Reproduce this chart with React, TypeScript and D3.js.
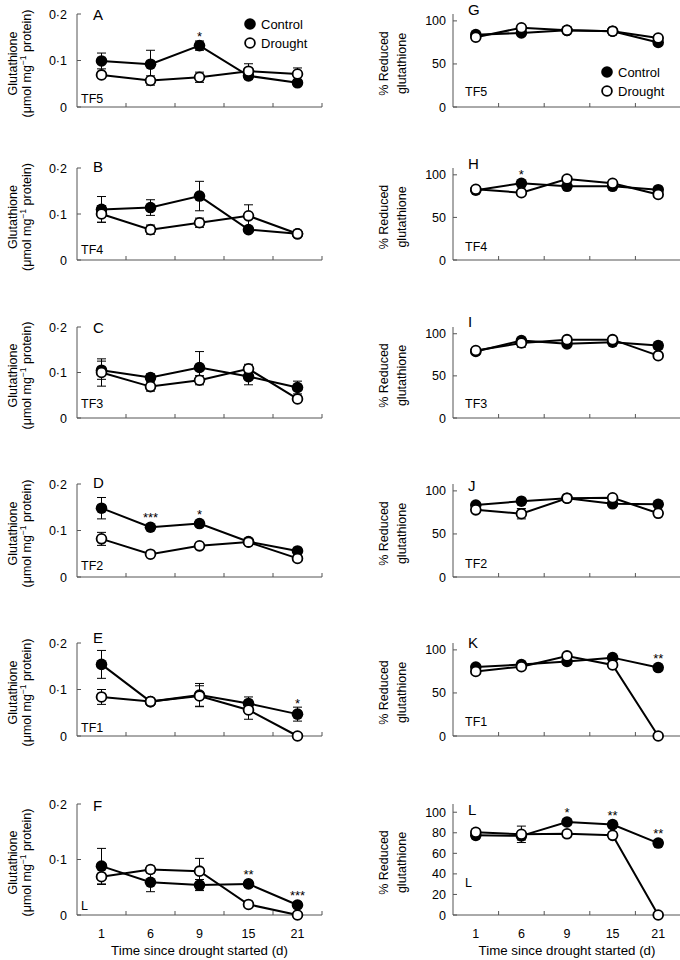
import React from "react";
import * as d3 from "d3";

// ---------- data ----------
const days = ["1", "6", "9", "15", "21"];
const glutTicks = [0, 0.1, 0.2];
const pctTicks = [0, 50, 100];
const pctTicksBottom = [0, 20, 40, 60, 80, 100];
const leftLetters = ["A", "B", "C", "D", "E", "F"];
const rightLetters = ["G", "H", "I", "J", "K", "L"];
const sectionLabels = ["TF5", "TF4", "TF3", "TF2", "TF1", "L"];
const xTitle = "Time since drought started (d)";

// Glutathione (µmol mg-1 protein)
const glutControl = [
  [0.099, 0.092, 0.132, 0.067, 0.052],
  [0.110, 0.114, 0.139, 0.066, 0.057],
  [0.105, 0.089, 0.111, 0.091, 0.067],
  [0.148, 0.107, 0.115, 0.076, 0.056],
  [0.154, 0.074, 0.088, 0.070, 0.047],
  [0.088, 0.059, 0.054, 0.056, 0.018],
];
const glutControlErr = [
  [0.017, 0.030, 0.010, 0.008, 0.006],
  [0.028, 0.017, 0.032, 0.005, 0.004],
  [0.020, 0.008, 0.035, 0.018, 0.014],
  [0.023, 0.005, 0.006, 0.005, 0.005],
  [0.030, 0.004, 0.025, 0.014, 0.015],
  [0.032, 0.017, 0.010, 0.006, 0.005],
];
const glutDrought = [
  [0.069, 0.057, 0.064, 0.077, 0.071],
  [0.100, 0.066, 0.081, 0.096, 0.057],
  [0.100, 0.069, 0.083, 0.108, 0.042],
  [0.082, 0.049, 0.067, 0.075, 0.040],
  [0.084, 0.074, 0.086, 0.056, 0.0],
  [0.069, 0.082, 0.079, 0.019, 0.0],
];
const glutDroughtErr = [
  [0.006, 0.010, 0.011, 0.016, 0.013],
  [0.018, 0.010, 0.010, 0.024, 0.004],
  [0.030, 0.010, 0.010, 0.010, 0.006],
  [0.014, 0.005, 0.005, 0.005, 0.005],
  [0.016, 0.005, 0.022, 0.020, 0.0],
  [0.014, 0.006, 0.023, 0.005, 0.0],
];
const glutSig = [
  ["", "", "*", "", ""],
  ["", "", "", "", ""],
  ["", "", "", "", ""],
  ["", "***", "*", "", ""],
  ["", "", "", "", "*"],
  ["", "", "", "**", "***"],
];

// % reduced glutathione
const pctControl = [
  [84, 86, 89, 88, 75],
  [82, 90, 86.5, 86.5, 82.5],
  [79, 92, 88, 90, 86],
  [83.5, 88, 91.5, 85, 84.5],
  [80, 83, 86.5, 91, 79.5],
  [77.5, 77, 90.5, 88, 70],
];
const pctControlErr = [
  [3, 3, 2, 2, 3],
  [3, 3, 2, 2, 3],
  [3, 3, 2, 2, 4],
  [3, 3, 2, 3, 3],
  [3, 3, 3, 2, 3],
  [3, 4, 3, 3, 3],
];
const pctDrought = [
  [81, 92, 89, 88, 80],
  [83, 79, 95, 90, 77],
  [80, 89, 93, 93, 74],
  [78, 73.5, 91.5, 92, 74],
  [75, 80.5, 93, 82.5, 0],
  [80.5, 78.5, 79, 77.5, 0],
];
const pctDroughtErr = [
  [3, 3, 2, 2, 3],
  [3, 3, 3, 2, 3],
  [3, 5, 2, 2, 3],
  [3, 6, 2, 3, 3],
  [3, 3, 2, 3, 0],
  [3, 8, 3, 3, 0],
];
const pctSig = [
  ["", "", "", "", ""],
  ["", "*", "", "", ""],
  ["", "", "", "", ""],
  ["", "", "", "", ""],
  ["", "", "", "", "**"],
  ["", "", "*", "**", "**"],
];

// ---------- layout ----------
const W = 680;
const H = 960;
const FONT = "'Liberation Sans', Arial, Helvetica, sans-serif";
const rowTop = [14, 168, 327, 484, 643, 804];
const rowBottom = [107, 260, 418, 577, 736, 915];
const leftRange: [number, number] = [77, 322];
const rightRange: [number, number] = [453, 681];
const leftLetterDy = [6, 4, 6, 4, 0, 7];
const rightLetterDy = [1, 1, 0, 7, 5, 11];
const leftTagDy = [4, 6, 10, 7, 4, 5];
const rightTagDy = [11, 9, 10, 9, 10, 28];
const R = 5.8;

type PanelProps = {
  side: "left" | "right";
  row: number;
  control: number[];
  controlErr: number[];
  drought: number[];
  droughtErr: number[];
  sig: string[];
};

function fmtGlut(d: number) {
  return d === 0 ? "0" : d3.format(".1f")(d).replace(".", "\u00B7");
}

function Panel({ side, row, control, controlErr, drought, droughtErr, sig }: PanelProps) {
  const left = side === "left";
  const top = rowTop[row];
  const bottom = rowBottom[row];
  const isBottom = row === 5;
  const x = d3.scaleBand<string>().domain(days).range(left ? leftRange : rightRange).paddingInner(0).paddingOuter(0);
  const y = d3
    .scaleLinear()
    .domain(left ? [0, 0.2] : [0, 108])
    .range([bottom, top]);
  const ticks = left ? glutTicks : isBottom ? pctTicksBottom : pctTicks;
  const axisX = x.range()[0];
  const cx = (i: number) => (x(days[i]) as number) + x.bandwidth() / 2;
  const line = d3
    .line<number>()
    .x((_, i) => cx(i))
    .y((d) => y(d));
  const boundaries = days.map((d) => (x(d) as number) + x.bandwidth());
  const letter = left ? leftLetters[row] : rightLetters[row];
  const letterX = left ? 93 : 468;
  const letterY = top + (left ? leftLetterDy[row] : rightLetterDy[row]);
  const tagX = left ? 81 : 465;
  const tagY = bottom - (left ? leftTagDy[row] : rightTagDy[row]);
  const axisColor = "#555";
  const midY = (top + bottom) / 2 + 3;

  const errBars = (vals: number[], errs: number[], key: string) =>
    vals.map((v, i) => {
      const e = errs[i];
      if (!e) return null;
      const y1 = y(v + e);
      const y0 = y(Math.max(0, v - e));
      const c = cx(i);
      return (
        <g key={key + i} stroke="#000" strokeWidth={1}>
          <line x1={c} x2={c} y1={y1} y2={y0} />
          <line x1={c - 4.5} x2={c + 4.5} y1={y1} y2={y1} />
          <line x1={c - 4.5} x2={c + 4.5} y1={y0} y2={y0} />
        </g>
      );
    });

  return (
    <g fontFamily={FONT}>
      {/* axes */}
      <line x1={axisX} x2={axisX} y1={top} y2={bottom} stroke={axisColor} strokeWidth={1} />
      <line x1={axisX} x2={x.range()[1]} y1={bottom} y2={bottom} stroke={axisColor} strokeWidth={1} />
      {boundaries.map((b, i) => (
        <line key={"xt" + i} x1={b} x2={b} y1={bottom} y2={bottom - 4} stroke={axisColor} strokeWidth={1} />
      ))}
      {ticks.map((t) => (
        <g key={"yt" + t}>
          <line x1={axisX} x2={axisX + 4} y1={y(t)} y2={y(t)} stroke={axisColor} strokeWidth={1} />
          <text x={axisX - (left ? 10 : 7)} y={y(t) + 4.5} textAnchor="end" fontSize={12.5} fill="#000">
            {left ? fmtGlut(t) : String(t)}
          </text>
        </g>
      ))}
      {/* y axis titles */}
      {left ? (
        <g fontSize={12.5} fill="#000" textAnchor="middle">
          <text transform={`translate(16.5,${midY}) rotate(-90)`}>Glutathione</text>
          <text transform={`translate(30.5,${midY}) rotate(-90)`}>
            (μmol mg
            <tspan dy={-5} fontSize={8.5}>
              −1
            </tspan>
            <tspan dy={5}> protein)</tspan>
          </text>
        </g>
      ) : (
        <g fontSize={12.5} fill="#000" textAnchor="middle">
          <text transform={`translate(388,${midY}) rotate(-90)`}>% Reduced</text>
          <text transform={`translate(406,${midY}) rotate(-90)`}>glutathione</text>
        </g>
      )}
      {/* labels */}
      <text x={letterX} y={letterY} fontSize={15} fill="#000">
        {letter}
      </text>
      <text x={tagX} y={tagY} fontSize={12.5} fill="#000">
        {sectionLabels[row]}
      </text>
      {/* lines */}
      <path d={line(control) || ""} fill="none" stroke="#000" strokeWidth={2} />
      <path d={line(drought) || ""} fill="none" stroke="#000" strokeWidth={2} />
      {errBars(control, controlErr, "ce")}
      {errBars(drought, droughtErr, "de")}
      {control.map((v, i) => (
        <circle key={"c" + i} cx={cx(i)} cy={y(v)} r={R} fill="#000" />
      ))}
      {drought.map((v, i) => (
        <circle key={"d" + i} cx={cx(i)} cy={y(v)} r={R - 0.9} fill="#fff" stroke="#000" strokeWidth={1.8} />
      ))}
      {sig.map((s, i) => {
        if (!s) return null;
        const topPt = Math.min(y(control[i]) - R, y(control[i] + controlErr[i]), y(drought[i]) - R);
        return (
          <text key={"s" + i} x={cx(i)} y={topPt + 1} textAnchor="middle" fontSize={13} fill="#000">
            {s}
          </text>
        );
      })}
      {/* bottom axis labels */}
      {isBottom && (
        <g fill="#000">
          {days.map((d, i) => (
            <text key={"xl" + d} x={cx(i)} y={bottom + 23} textAnchor="middle" fontSize={12.5}>
              {d}
            </text>
          ))}
          <text x={(left ? 77 + 322 : 453 + 681) / 2} y={bottom + 40} textAnchor="middle" fontSize={13.3}>
            {xTitle}
          </text>
        </g>
      )}
    </g>
  );
}

function Legend({ x0, y0 }: { x0: number; y0: number }) {
  return (
    <g fontFamily={FONT} fontSize={13} fill="#000">
      <circle cx={x0} cy={y0} r={R} fill="#000" />
      <text x={x0 + 11} y={y0 + 4.5}>Control</text>
      <circle cx={x0} cy={y0 + 19} r={R - 0.9} fill="#fff" stroke="#000" strokeWidth={1.8} />
      <text x={x0 + 11} y={y0 + 23.5}>Drought</text>
    </g>
  );
}

export default function App() {
  return (
    <svg
      width={W}
      height={H}
      viewBox={`0 0 ${W} ${H}`}
      style={{ position: "absolute", left: 0, top: 0, background: "#fff" }}
    >
      <rect x={0} y={0} width={W} height={H} fill="#fff" />
      {rowTop.map((_, r) => (
        <Panel
          key={"L" + r}
          side="left"
          row={r}
          control={glutControl[r]}
          controlErr={glutControlErr[r]}
          drought={glutDrought[r]}
          droughtErr={glutDroughtErr[r]}
          sig={glutSig[r]}
        />
      ))}
      {rowTop.map((_, r) => (
        <Panel
          key={"R" + r}
          side="right"
          row={r}
          control={pctControl[r]}
          controlErr={pctControlErr[r]}
          drought={pctDrought[r]}
          droughtErr={pctDroughtErr[r]}
          sig={pctSig[r]}
        />
      ))}
      <Legend x0={250} y0={24} />
      <Legend x0={607} y0={72} />
    </svg>
  );
}
